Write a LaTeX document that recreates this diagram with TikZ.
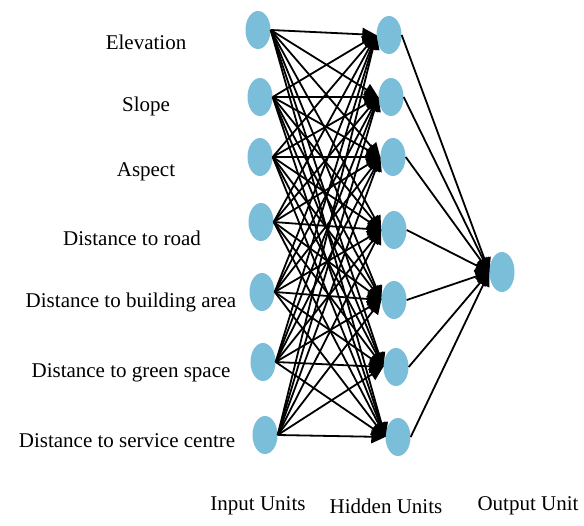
\documentclass[tikz,border=0pt]{standalone}
\usepackage{fontspec}
\setmainfont{Liberation Serif}
\usetikzlibrary{arrows.meta,shapes.geometric}
\definecolor{unitblue}{RGB}{122,190,218}
\tikzset{
  unit/.style={ellipse, fill=unitblue, minimum width=25pt, minimum height=38pt, inner sep=0pt},
  conn/.style={line width=1.8pt, black, -{Triangle[length=14pt,width=13pt]}},
  lab/.style={font=\fontsize{21}{23}\selectfont, inner sep=0pt}
}
\begin{document}
\begin{tikzpicture}[x=1pt,y=-1pt]
\useasboundingbox (0,0) rectangle (584,526);
\fill[white] (0,0) rectangle (584,526);
% input units
\foreach \i/\x/\y in {1/258/30,2/260/97,3/260/157,4/261/222,5/262/292,6/263/362,7/265/435}
  \node[unit] (i\i) at (\x,\y) {};
% hidden units
\foreach \i/\x/\y in {1/389/35,2/391/97,3/393/157,4/394/230,5/394/300,6/396/367,7/398/437}
  \node[unit] (h\i) at (\x,\y) {};
\node[unit, minimum height=40pt] (o) at (502,272) {};
% connections
\foreach \i in {1,...,7}
  \foreach \j in {1,...,7}
    \draw[conn] (i\i.east) -- (h\j.west);
\foreach \j in {1,...,7}
  \draw[conn] (h\j.east) -- (o.west);
% labels
\node[lab] (l1) at (146,42) {Elevation};
\node[lab] (l2) at (146,106) {Slope};
\node[lab] (l3) at (146,172) {Aspect};
\node[lab] (l4) at (132,238) {Distance to road};
\node[lab] (l5) at (131,302) {Distance to building area};
\node[lab] (l6) at (131,373) {Distance to green space};
\node[lab] (l7) at (127,441) {Distance to service centre};
\node[lab] (t1) at (258,506) {Input Units};
\node[lab] (t2) at (386,506) {Hidden Units};
\node[lab] (t3) at (528,506) {Output Unit};
\end{tikzpicture}
\end{document}
